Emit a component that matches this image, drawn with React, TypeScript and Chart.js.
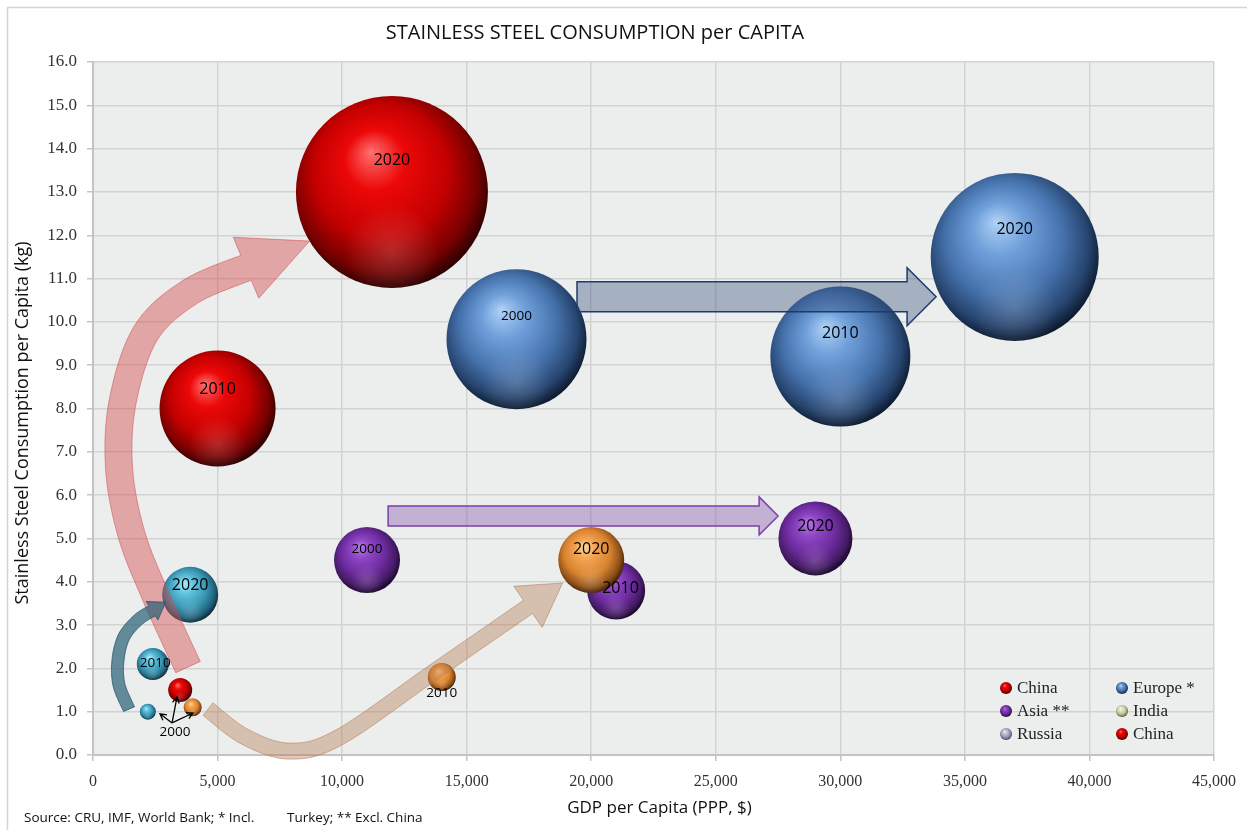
import { useEffect, useRef } from 'react';
import { Chart, registerables } from 'chart.js';

Chart.register(...registerables);

const years = ['2000', '2010', '2020'];

// GDP per capita (PPP, $), stainless consumption (kg per head), bubble radius (px)
const chinaGdp = [3500, 5000, 12000];
const chinaKg = [1.5, 8.0, 13.0];
const chinaSize = [12, 58, 96];

const europeGdp = [17000, 30000, 37000];
const europeKg = [9.6, 9.2, 11.5];
const europeSize = [70, 70, 84];

const asiaGdp = [11000, 21000, 29000];
const asiaKg = [4.5, 3.8, 5.0];
const asiaSize = [33, 29, 37];

const russiaGdp = [4000, 14000, 20000];
const russiaKg = [1.1, 1.8, 4.5];
const russiaSize = [9, 14, 33];

const indiaGdp = [2200, 2400, 3900];
const indiaKg = [1.0, 2.1, 3.7];
const indiaSize = [8, 16, 28];

const legendNames = ['China', 'Asia **', 'Russia', 'Europe *', 'India', 'China'];
const legendPalettes = ['red', 'purple', 'lavender', 'blue', 'olive', 'red'];

// Trend arrows, as centre lines in (GDP, kg) space
const chinaPath = [[3814, 2.03], [2489, 3.7], [1526, 5.13], [1044, 6.65], [1204, 8.2], [2128, 9.75], [3894, 10.69], [6142, 11.25]];
const europePath = [[19430, 10.58], [32680, 10.58]];
const asiaPath = [[11847, 5.52], [26740, 5.52]];
const russiaPath = [[4617, 1.06], [6102, 0.42], [7909, 0.09], [9916, 0.42], [13690, 1.92], [17463, 3.42]];
const indiaPath = [[1445, 1.06], [1044, 1.62], [1004, 2.19], [1245, 2.73], [1807, 3.12], [2369, 3.33]];

// Shared "2000" tag for the three small bubbles near the origin
const groupTagAt = [3293, 0.53];
const pointerFrom = [3173, 0.74];
const pointerTo = [[2690, 0.95], [3373, 1.34], [4014, 0.97]];

const palettes: Record<string, string[]> = {
  red: ['#ff7070', '#ec0808', '#c40000', '#780000', '#2a0000'],
  blue: ['#b0d2f6', '#70a0da', '#4672ac', '#26446e', '#0b182c'],
  purple: ['#b578e4', '#8c44c4', '#6a2a9a', '#421a62', '#170726'],
  orange: ['#ffd596', '#f2a452', '#d98330', '#8e5018', '#3a1d06'],
  teal: ['#a8ecfa', '#60c2de', '#3895b2', '#20607a', '#09262f'],
  lavender: ['#f0f0f8', '#c4c4d8', '#9c9cba', '#6a6a8a', '#2e2e44'],
  olive: ['#fafce8', '#dfe3c0', '#c3c99e', '#858c62', '#3e4426'],
};

const FONT_SANS = '"Open Sans", "Noto Sans", sans-serif';
const FONT_SERIF = '"Liberation Serif", "DejaVu Serif", serif';

type Series = { name: string; gdp: number[]; kg: number[]; size: number[]; pal: string; order: number };

const seriesList: Series[] = [
  { name: 'Russia', gdp: russiaGdp, kg: russiaKg, size: russiaSize, pal: 'orange', order: 0 },
  { name: 'India', gdp: indiaGdp, kg: indiaKg, size: indiaSize, pal: 'teal', order: 1 },
  { name: 'China', gdp: chinaGdp, kg: chinaKg, size: chinaSize, pal: 'red', order: 2 },
  { name: 'Asia **', gdp: asiaGdp, kg: asiaKg, size: asiaSize, pal: 'purple', order: 3 },
  { name: 'Europe *', gdp: europeGdp, kg: europeKg, size: europeSize, pal: 'blue', order: 4 },
];

// Where each year tag sits on its bubble, and its font size
const tagPlacement: Record<string, string[]> = {
  China: ['group', 'top', 'top'],
  'Europe *': ['top', 'top', 'top'],
  'Asia **': ['top', 'mid', 'top'],
  Russia: ['group', 'below', 'top'],
  India: ['group', 'mid', 'top'],
};
const tagFontSize: Record<string, number[]> = {
  China: [0, 16, 16],
  'Europe *': [13.5, 16, 16],
  'Asia **': [13.5, 16, 16],
  Russia: [0, 13.5, 16],
  India: [0, 13.5, 16],
};

const arrowStyles = [
  { path: chinaPath, half: 13.5, headHalf: 33, headLen: 69, fill: 'rgba(215,75,75,0.45)', stroke: 'rgba(205,80,80,0.55)', lw: 1 },
  { path: europePath, half: 15, headHalf: 29, headLen: 29, fill: 'rgba(50,75,120,0.38)', stroke: '#1f3a6e', lw: 1.5 },
  { path: asiaPath, half: 10, headHalf: 19, headLen: 19, fill: 'rgba(130,80,170,0.38)', stroke: '#7b3fa8', lw: 1.5 },
  { path: russiaPath, half: 8, headHalf: 25, headLen: 42, fill: 'rgba(180,120,80,0.4)', stroke: 'rgba(185,130,90,0.6)', lw: 1 },
  { path: indiaPath, half: 6, headHalf: 11, headLen: 16, fill: 'rgba(40,95,115,0.7)', stroke: 'rgba(35,85,105,0.8)', lw: 1 },
];

function sphereGradient(c: CanvasRenderingContext2D, cx: number, cy: number, r: number, stops: string[]) {
  if (![cx, cy, r].every((v) => Number.isFinite(v)) || r <= 0) return stops[2];
  const g = c.createRadialGradient(cx - 0.22 * r, cy - 0.42 * r, 0, cx - 0.06 * r, cy - 0.1 * r, r * 1.12);
  const pos = [0, 0.28, 0.62, 0.86, 1];
  stops.forEach((s, i) => g.addColorStop(pos[i], s));
  return g;
}

function spline(pts: number[][], steps: number) {
  const out: number[][] = [];
  if (pts.length < 3) {
    for (let i = 0; i <= steps; i++) {
      const t = i / steps;
      out.push([pts[0][0] + (pts[1][0] - pts[0][0]) * t, pts[0][1] + (pts[1][1] - pts[0][1]) * t]);
    }
    return out;
  }
  for (let i = 0; i < pts.length - 1; i++) {
    const p0 = pts[Math.max(i - 1, 0)];
    const p1 = pts[i];
    const p2 = pts[i + 1];
    const p3 = pts[Math.min(i + 2, pts.length - 1)];
    for (let s = 0; s < steps; s++) {
      const t = s / steps;
      const t2 = t * t;
      const t3 = t2 * t;
      const f = (a: number, b: number, c: number, d: number) =>
        0.5 * (2 * b + (-a + c) * t + (2 * a - 5 * b + 4 * c - d) * t2 + (-a + 3 * b - 3 * c + d) * t3);
      out.push([f(p0[0], p1[0], p2[0], p3[0]), f(p0[1], p1[1], p2[1], p3[1])]);
    }
  }
  out.push(pts[pts.length - 1]);
  return out;
}

function drawBandArrow(c: CanvasRenderingContext2D, px: number[][], a: typeof arrowStyles[number]) {
  const smp = spline(px, 24);
  const n = smp.length;
  const L: number[][] = [];
  const R: number[][] = [];
  let dx = 1;
  let dy = 0;
  for (let i = 0; i < n; i++) {
    const p = smp[Math.max(i - 1, 0)];
    const q = smp[Math.min(i + 1, n - 1)];
    let tx = q[0] - p[0];
    let ty = q[1] - p[1];
    const len = Math.hypot(tx, ty) || 1;
    tx /= len;
    ty /= len;
    dx = tx;
    dy = ty;
    L.push([smp[i][0] - ty * a.half, smp[i][1] + tx * a.half]);
    R.push([smp[i][0] + ty * a.half, smp[i][1] - tx * a.half]);
  }
  const E = smp[n - 1];
  const nx = -dy;
  const ny = dx;
  c.beginPath();
  c.moveTo(L[0][0], L[0][1]);
  for (let i = 1; i < n; i++) c.lineTo(L[i][0], L[i][1]);
  c.lineTo(E[0] + nx * a.headHalf, E[1] + ny * a.headHalf);
  c.lineTo(E[0] + dx * a.headLen, E[1] + dy * a.headLen);
  c.lineTo(E[0] - nx * a.headHalf, E[1] - ny * a.headHalf);
  for (let i = n - 1; i >= 0; i--) c.lineTo(R[i][0], R[i][1]);
  c.closePath();
  c.fillStyle = a.fill;
  c.fill();
  c.lineWidth = a.lw;
  c.strokeStyle = a.stroke;
  c.lineJoin = 'miter';
  c.stroke();
}

const decorations = {
  id: 'decorations',
  beforeDraw(chart: any) {
    const { ctx, chartArea } = chart;
    ctx.save();
    ctx.fillStyle = '#ffffff';
    ctx.fillRect(0, 0, chart.width, chart.height);
    ctx.strokeStyle = '#d4d4d4';
    ctx.lineWidth = 1.5;
    ctx.strokeRect(7.5, 7.5, 1300, 900);
    ctx.fillStyle = '#eceeee';
    ctx.fillRect(chartArea.left, chartArea.top, chartArea.right - chartArea.left, chartArea.bottom - chartArea.top);
    ctx.restore();
  },
  afterDatasetsDraw(chart: any) {
    const { ctx } = chart;
    const xs = chart.scales.x;
    const ys = chart.scales.y;
    const toPx = (p: number[]) => [xs.getPixelForValue(p[0]), ys.getPixelForValue(p[1])];
    ctx.save();

    // soft bounce light on the lower part of every sphere
    chart.data.datasets.forEach((_: any, di: number) => {
      chart.getDatasetMeta(di).data.forEach((el: any) => {
        const r = el.options.radius;
        if (!Number.isFinite(el.x) || !Number.isFinite(el.y) || !(r > 0)) return;
        ctx.save();
        ctx.beginPath();
        ctx.arc(el.x, el.y, r, 0, Math.PI * 2);
        ctx.clip();
        const g = ctx.createRadialGradient(el.x, el.y + 0.62 * r, 0, el.x, el.y + 0.62 * r, 0.5 * r);
        g.addColorStop(0, 'rgba(255,255,255,0.16)');
        g.addColorStop(1, 'rgba(255,255,255,0)');
        ctx.fillStyle = g;
        ctx.fillRect(el.x - r, el.y - r, 2 * r, 2 * r);
        ctx.restore();
      });
    });

    arrowStyles.forEach((a) => drawBandArrow(ctx, a.path.map(toPx), a));

    // pointers from the shared "2000" tag
    const from = toPx(pointerFrom);
    ctx.strokeStyle = '#000';
    ctx.lineWidth = 1.3;
    pointerTo.forEach((t) => {
      const to = toPx(t);
      const ang = Math.atan2(to[1] - from[1], to[0] - from[0]);
      ctx.beginPath();
      ctx.moveTo(from[0], from[1]);
      ctx.lineTo(to[0], to[1]);
      ctx.moveTo(to[0] - 7 * Math.cos(ang - 0.5), to[1] - 7 * Math.sin(ang - 0.5));
      ctx.lineTo(to[0], to[1]);
      ctx.lineTo(to[0] - 7 * Math.cos(ang + 0.5), to[1] - 7 * Math.sin(ang + 0.5));
      ctx.stroke();
    });

    // year tags
    ctx.fillStyle = '#000';
    ctx.textAlign = 'center';
    ctx.textBaseline = 'middle';
    const g = toPx(groupTagAt);
    ctx.font = `13.5px ${FONT_SANS}`;
    ctx.fillText(years[0], g[0], g[1]);
    seriesList.forEach((s, di) => {
      const meta = chart.getDatasetMeta(di);
      meta.data.forEach((el: any, i: number) => {
        const place = tagPlacement[s.name][i];
        if (place === 'group') return;
        const r = el.options.radius;
        let x = el.x;
        let y = el.y;
        if (place === 'top') y -= 0.33 * r;
        else if (place === 'mid') {
          x += 0.15 * r;
          y -= 0.08 * r;
        } else if (place === 'below') y += r + 2;
        ctx.font = `${tagFontSize[s.name][i]}px ${FONT_SANS}`;
        ctx.fillText(years[i], x, y);
      });
    });
    ctx.restore();
  },
  afterDraw(chart: any) {
    const { ctx, chartArea } = chart;
    ctx.save();
    // legend, two columns inside the plot
    ctx.textAlign = 'left';
    ctx.textBaseline = 'middle';
    ctx.font = `17px ${FONT_SERIF}`;
    legendNames.forEach((name, i) => {
      const col = Math.floor(i / 3);
      const row = i % 3;
      const mx = 1006 + col * 116;
      const my = 688 + row * 23;
      ctx.beginPath();
      ctx.arc(mx, my, 6, 0, Math.PI * 2);
      ctx.fillStyle = sphereGradient(ctx, mx, my, 6, palettes[legendPalettes[i]]);
      ctx.fill();
      ctx.fillStyle = '#222';
      ctx.fillText(name, mx + 11, my + 1);
    });

    // titles
    ctx.fillStyle = '#111';
    ctx.textAlign = 'center';
    ctx.font = `20px ${FONT_SANS}`;
    ctx.fillText('STAINLESS STEEL CONSUMPTION per CAPITA', 595, 33);
    ctx.font = `17px ${FONT_SANS}`;
    ctx.fillText('GDP per Capita (PPP, $)', (chartArea.left + chartArea.right) / 2 + 6, 808);
    ctx.save();
    ctx.translate(23, 423);
    ctx.rotate(-Math.PI / 2);
    ctx.font = `18px ${FONT_SANS}`;
    ctx.fillText('Stainless Steel Consumption per Capita (kg)', 0, 0);
    ctx.restore();

    ctx.textAlign = 'left';
    ctx.font = `13.5px ${FONT_SANS}`;
    ctx.fillText('Source: CRU, IMF, World Bank; * Incl.', 24, 818);
    ctx.fillText('Turkey; ** Excl. China', 287, 818);
    ctx.restore();
  },
};

export default function App() {
  const ref = useRef<HTMLCanvasElement | null>(null);

  useEffect(() => {
    if (!ref.current) return;
    const datasets = seriesList.map((s) => ({
      label: s.name,
      order: s.order,
      data: s.gdp.map((x, i) => ({ x, y: s.kg[i], r: s.size[i] })),
      borderWidth: 0,
      clip: false as const,
      backgroundColor: (c: any) => {
        const pal = palettes[s.pal];
        if (c.type !== 'data' || !c.raw) return pal[2];
        const ch = c.chart;
        const xs = ch.scales && ch.scales.x;
        const ys = ch.scales && ch.scales.y;
        if (!xs || !ys) return pal[2];
        return sphereGradient(ch.ctx, xs.getPixelForValue(c.raw.x), ys.getPixelForValue(c.raw.y), c.raw.r, pal);
      },
    }));

    const chart = new Chart(ref.current, {
      type: 'bubble',
      data: { datasets },
      plugins: [decorations],
      options: {
        animation: false,
        responsive: false,
        events: [],
        layout: { autoPadding: false, padding: { left: 0, top: 62, right: 33, bottom: 0 } },
        plugins: { legend: { display: false }, tooltip: { enabled: false }, title: { display: false } },
        scales: {
          x: {
            type: 'linear',
            min: 0,
            max: 45000,
            afterFit: (s: any) => {
              s.height = 75;
            },
            ticks: {
              stepSize: 5000,
              padding: 11,
              color: '#333',
              font: { family: FONT_SERIF, size: 16 },
              callback: (v: any) => Number(v).toLocaleString('en-US'),
            },
            grid: { color: '#d2d2d2', lineWidth: 1.5, tickLength: 6, tickColor: '#c4c4c4' },
            border: { color: '#c4c4c4', width: 2 },
          },
          y: {
            type: 'linear',
            min: 0,
            max: 16,
            afterFit: (s: any) => {
              s.width = 93;
            },
            ticks: {
              stepSize: 1,
              padding: 10,
              color: '#333',
              font: { family: FONT_SERIF, size: 17 },
              callback: (v: any) => Number(v).toFixed(1),
            },
            grid: { color: '#d2d2d2', lineWidth: 1.5, tickLength: 6, tickColor: '#c4c4c4' },
            border: { color: '#c4c4c4', width: 2 },
          },
        },
      },
    });
    return () => chart.destroy();
  }, []);

  return (
    <div style={{ position: 'fixed', left: 0, top: 0, width: 1247, height: 830, background: '#fff' }}>
      <canvas ref={ref} width={1247} height={830} style={{ display: 'block' }} />
    </div>
  );
}
